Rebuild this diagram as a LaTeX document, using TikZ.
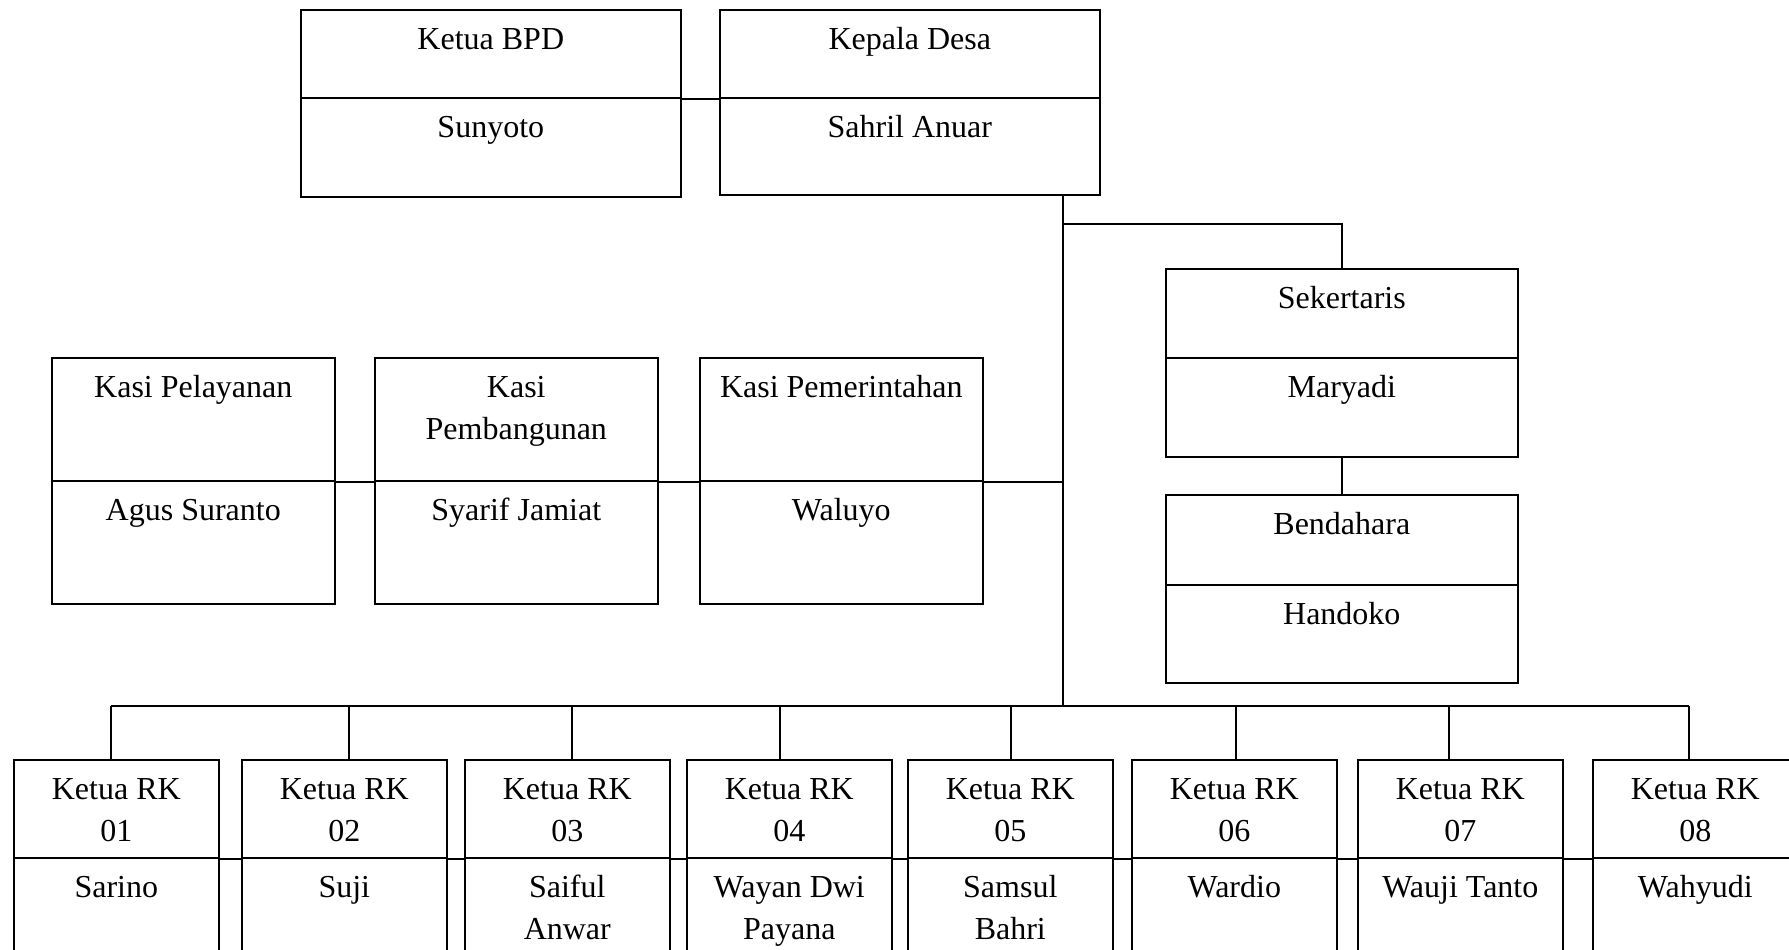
\documentclass[tikz,border=0pt]{standalone}
\usepackage{fontspec}
\setmainfont{Liberation Serif}
\usetikzlibrary{calc}
\tikzset{
  cellbox/.style={draw, line width=0.8pt, inner sep=0pt, anchor=north west},
  lbl/.style={anchor=base, inner sep=0pt, align=center, font=\fontsize{16}{21}\selectfont},
  conn/.style={line width=0.9pt},
}
\begin{document}
\begin{tikzpicture}[x=0.5pt,y=-0.5pt]
\useasboundingbox (0,0) rectangle (1789,949);
\clip (0,0) rectangle (1789,949);

% top row
\node[cellbox, minimum width=190pt, minimum height=44pt] (bpdT) at (300,9) {};
\node[cellbox, minimum width=190pt, minimum height=49.5pt] (bpdB) at (300,97) {};
\node[lbl] (bpdTt) at ($(bpdT.north)+(0,40)$) {Ketua BPD};
\node[lbl] (bpdBt) at ($(bpdB.north)+(0,40)$) {Sunyoto};
\node[cellbox, minimum width=190pt, minimum height=44pt] (desaT) at (719,9) {};
\node[cellbox, minimum width=190pt, minimum height=48.5pt] (desaB) at (719,97) {};
\node[lbl] (desaTt) at ($(desaT.north)+(0,40)$) {Kepala Desa};
\node[lbl] (desaBt) at ($(desaB.north)+(0,40)$) {Sahril Anuar};
\draw[conn] (bpdT.south east) -- (desaT.south west);

% sekertaris / bendahara
\node[cellbox, minimum width=176pt, minimum height=44.5pt] (sekT) at (1165,268) {};
\node[cellbox, minimum width=176pt, minimum height=49.5pt] (sekB) at (1165,357) {};
\node[lbl] (sekTt) at ($(sekT.north)+(0,40)$) {Sekertaris};
\node[lbl] (sekBt) at ($(sekB.north)+(0,40)$) {Maryadi};
\node[cellbox, minimum width=176pt, minimum height=45pt] (bendT) at (1165,494) {};
\node[cellbox, minimum width=176pt, minimum height=49pt] (bendB) at (1165,584) {};
\node[lbl] (bendTt) at ($(bendT.north)+(0,40)$) {Bendahara};
\node[lbl] (bendBt) at ($(bendB.north)+(0,40)$) {Handoko};

% kasi (offset = baseline of last line below cell top)
\foreach \i/\x/\ttl/\off/\nm in {1/51/{Kasi Pelayanan}/40/{Agus Suranto},
                            2/374/{Kasi\\Pembangunan}/82/{Syarif Jamiat},
                            3/699/{Kasi Pemerintahan}/40/{Waluyo}}{
  \node[cellbox, minimum width=141.5pt, minimum height=61.5pt] (kasi\i T) at (\x,357) {};
  \node[cellbox, minimum width=141.5pt, minimum height=61.5pt] (kasi\i B) at (\x,480) {};
  \node[lbl] (kasi\i Tt) at ($(kasi\i T.north)+(0,\off)$) {\ttl};
  \node[lbl] (kasi\i Bt) at ($(kasi\i B.north)+(0,40)$) {\nm};
}

% trunk and branches
\coordinate (t3) at (1063,706);
\draw[conn] (t3 |- desaB.south) -- (t3);
\coordinate (sekc) at (1342,224);
\draw[conn] (sekc -| t3) -- (sekc) -- (sekc |- sekT.north);
\draw[conn] (sekB.south) -- (bendT.north);
\draw[conn] (kasi1T.south east) -- (kasi2T.south west);
\draw[conn] (kasi2T.south east) -- (kasi3T.south west);
\draw[conn] (kasi3T.south east) -- (kasi3T.south east -| t3);

% RK row
\foreach \i/\x/\cx/\num/\off/\nm in {1/13/111/01/40/{Sarino},
                                2/241/349/02/40/{Suji},
                                3/464/572/03/82/{Saiful\\Anwar},
                                4/686/780/04/82/{Wayan Dwi\\Payana},
                                5/907/1011/05/82/{Samsul\\Bahri},
                                6/1131/1236/06/40/{Wardio},
                                7/1357/1449/07/40/{Wauji Tanto},
                                8/1592/1689/08/40/{Wahyudi}}{
  \node[cellbox, minimum width=102.5pt, minimum height=49pt] (rk\i T) at (\x,759) {};
  \node[cellbox, minimum width=102.5pt, minimum height=60pt] (rk\i B) at (\x,857) {};
  \node[lbl] (rk\i Tt) at ($(rk\i T.north)+(0,82)$) {Ketua RK\\\num};
  \node[lbl] (rk\i Bt) at ($(rk\i B.north)+(0,\off)$) {\nm};
  \coordinate (bus\i) at (\cx,706);
  \draw[conn] (bus\i) -- (bus\i |- rk\i T.north);
}
\draw[conn] (bus1) -- (bus8);
\foreach \i/\j in {1/2,2/3,3/4,4/5,5/6,6/7,7/8}{
  \draw[conn] (rk\i T.south east) -- (rk\j T.south west);
}
\end{tikzpicture}
\end{document}
